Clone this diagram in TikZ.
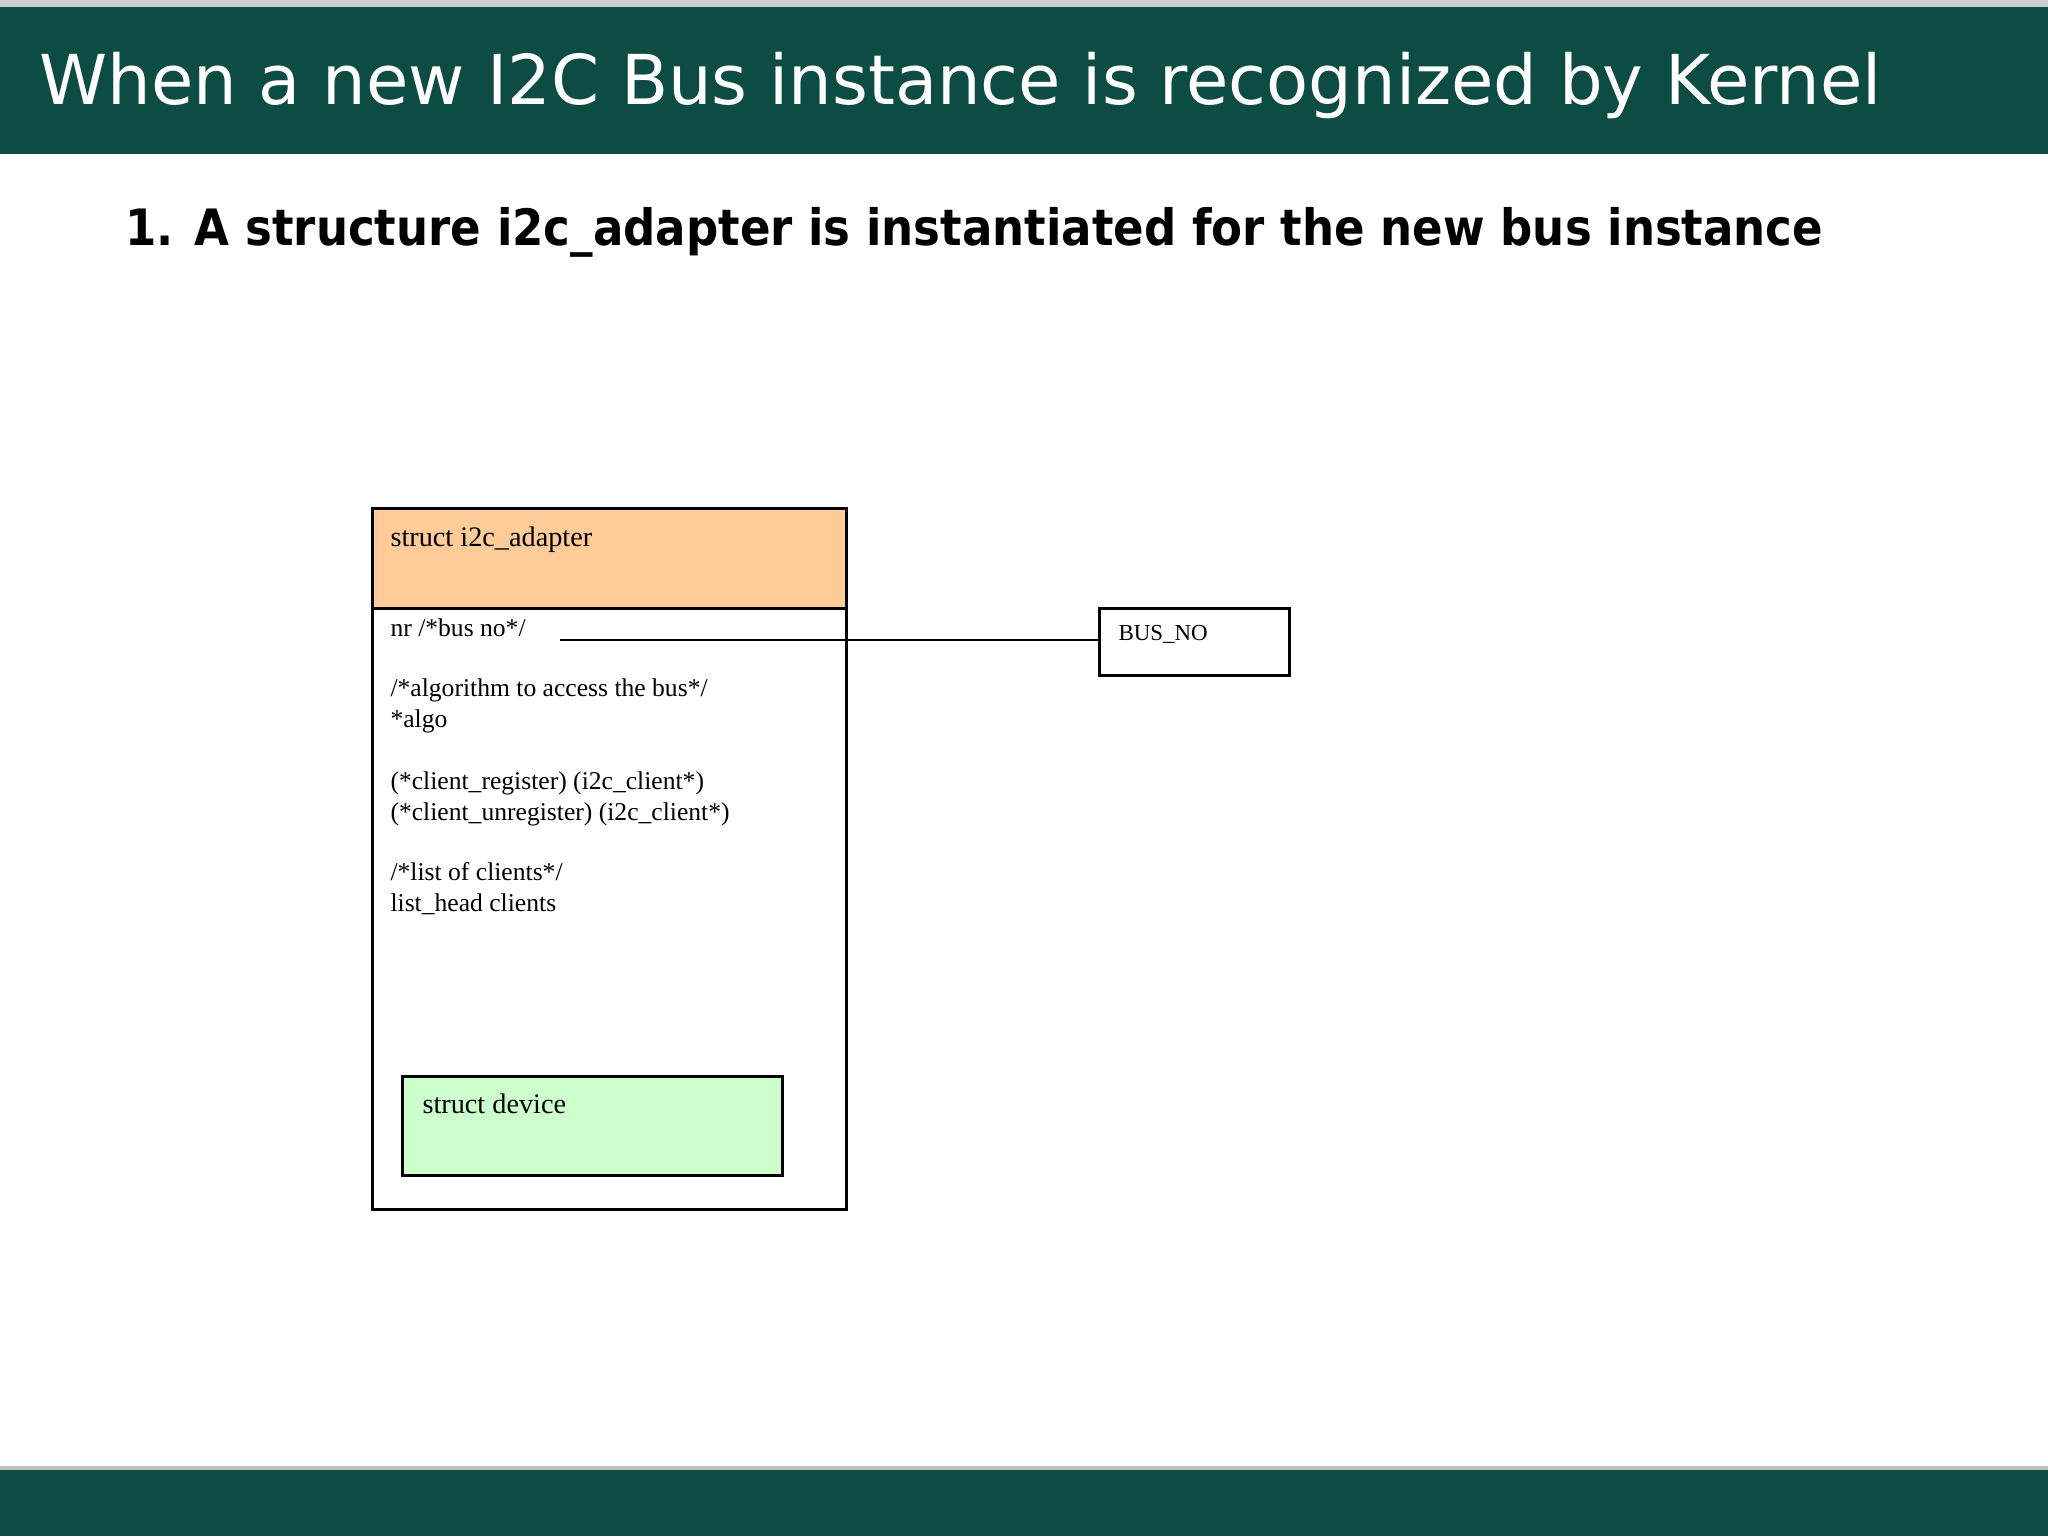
\documentclass[tikz,border=0pt]{standalone}
\usepackage{fontspec}
\setmainfont{Liberation Serif}
\newfontfamily\dvs{DejaVu Sans}
\definecolor{bargreen}{HTML}{0D4C42}
\definecolor{hdrorange}{HTML}{FFCC99}
\definecolor{devgreen}{HTML}{CCFFCC}
\begin{document}
\begin{tikzpicture}[x=0.375pt,y=-0.375pt,
  boxline/.style={draw=black,line width=1.1pt},
  fieldtxt/.style={anchor=base west,inner sep=0pt,font=\fontsize{9.6pt}{11pt}\selectfont},
  headtxt/.style={anchor=base west,inner sep=0pt,font=\fontsize{10.6pt}{12pt}\selectfont},
  smalltxt/.style={anchor=base west,inner sep=0pt,font=\fontsize{8.6pt}{10pt}\selectfont}]
\useasboundingbox (0,0) rectangle (2048,1536);
\fill[white] (0,0) rectangle (2048,1536);
% top bar
\fill[gray!40] (0,0) rectangle (2048,7);
\fill[bargreen] (0,7) rectangle (2048,154);
\node[anchor=base west,inner sep=0pt,text=white,font=\dvs\fontsize{25.8pt}{30pt}\selectfont] (title) at (39,104) {When a new I2C Bus instance is recognized by Kernel};
% subtitle
\node[anchor=base west,inner sep=0pt,font=\dvs\bfseries\fontsize{18.8pt}{22pt}\selectfont] (sub) at (125,245) {\scalebox{0.899}[1]{1. A structure i2c\_adapter is instantiated for the new bus instance}};
% main structure box
\node[boxline,fill=white,minimum width=474*0.375pt,minimum height=701*0.375pt,inner sep=0pt,anchor=north west] (adapter) at (371,507) {};
\node[boxline,fill=hdrorange,minimum width=474*0.375pt,minimum height=100*0.375pt,inner sep=0pt,anchor=north west] (hdr) at (371,507) {};
\node[headtxt] (hdrtxt) at (390,546) {struct i2c\_adapter};
\node[fieldtxt] (f1) at (390,636) {nr /*bus no*/};
\node[fieldtxt] (f2) at (390,696) {/*algorithm to access the bus*/};
\node[fieldtxt] (f3) at (390,727) {*algo};
\node[fieldtxt] (f4) at (390,789) {(*client\_register) (i2c\_client*)};
\node[fieldtxt] (f5) at (390,820) {(*client\_unregister) (i2c\_client*)};
\node[fieldtxt] (f6) at (390,880) {/*list of clients*/};
\node[fieldtxt] (f7) at (390,911) {list\_head clients};
% device box
\node[boxline,fill=devgreen,minimum width=380*0.375pt,minimum height=99*0.375pt,inner sep=0pt,anchor=north west] (dev) at (401,1075) {};
\node[headtxt] (devtxt) at (422,1113) {struct device};
% BUS_NO box
\node[boxline,fill=white,minimum width=190*0.375pt,minimum height=67*0.375pt,inner sep=0pt,anchor=north west] (bus) at (1098,607) {};
\node[smalltxt] (bustxt) at (1118,640) {BUS\_NO};
% connector
\coordinate (nrend) at (560,640);
\draw[line width=0.9pt] (nrend) -- (nrend -| bus.west);
% bottom bar
\fill[gray!50] (0,1466) rectangle (2048,1470);
\fill[bargreen] (0,1470) rectangle (2048,1536);
\end{tikzpicture}
\end{document}
